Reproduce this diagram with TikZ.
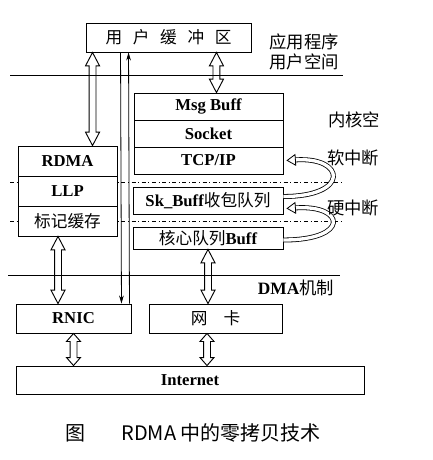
\documentclass[tikz,border=0pt]{standalone}
\usepackage{fontspec}
\setmainfont{Liberation Serif}
\newfontfamily\cjk{Noto Sans CJK SC}
\newcommand{\zhtext}[1]{{\cjk\mdseries #1}}
\usetikzlibrary{calc,arrows.meta}

\tikzset{
  box/.style={draw, fill=white, inner sep=0pt, line width=0.7pt,
    font=\fontsize{12.5}{14}\selectfont\bfseries},
  lbl/.style={inner sep=0.75pt, font=\fontsize{13}{15}\selectfont},
  fatarrow/.style={draw, line width=0.7pt, to path={
    let \p1=(\tikztostart), \p2=(\tikztotarget) in
    (\x1,\y1) -- (\x1+5.25pt,\y1+#1) -- (\x1+2.6pt,\y1+#1) -- (\x1+2.6pt,\y2-#1)
    -- (\x1+5.25pt,\y2-#1) -- (\x1,\y2) -- (\x1-5.25pt,\y2-#1) -- (\x1-2.6pt,\y2-#1)
    -- (\x1-2.6pt,\y1+#1) -- (\x1-5.25pt,\y1+#1) -- cycle}},
  fatarrow/.default=10pt,
  thinarr/.style={line width=0.6pt, -{Stealth[length=6pt,width=3.5pt]}},
  band/.style={double, double distance=2.5pt, line width=0.6pt,
    -{Triangle[open,length=7pt,width=9pt]}},
  layer/.style={line width=0.6pt}
}

\begin{document}
\begin{tikzpicture}[x=0.75pt,y=0.75pt,yscale=-1,xscale=1]
	\path (0,0) rectangle (432,460);
	
	%Straight Lines
	\draw [layer] (10,75) -- (343,75) ;
	\draw [layer, dash dot] (10,182) -- (343,182) ;
	\draw [layer, dash dot] (10,221) -- (343,221) ;
	\draw [layer] (8,275) -- (340,275) ;
	
	%Shape: Rectangle
	\node (ub) [box, minimum width=123.75pt, minimum height=21.75pt] at (168.5,37.5)
	  {\zhtext{用\hspace{8pt}户\hspace{8pt}缓\hspace{8pt}冲\hspace{8pt}区}};
	%Shape: Rectangle
	\node (msg) [box, minimum width=111.75pt, minimum height=20.25pt] at (208.5,106.5) {Msg Buff};
	\node (sock) [box, minimum width=111.75pt, minimum height=20.25pt] at (208.5,133.5) {Socket};
	\node (tcp) [box, minimum width=111.75pt, minimum height=20.25pt] at (208.5,160.5) {TCP/IP};
	\node (skb) [box, minimum width=112.5pt, minimum height=20.25pt] at (208,200.5) {Sk\_Buff\zhtext{收包队列}};
	\node (core) [box, minimum width=112.5pt, minimum height=16.5pt] at (208,238) {\zhtext{核心队列}Buff};
	%Shape: Rectangle
	\node (rdma) [box, minimum width=74.25pt, minimum height=22.5pt] at (67.5,161) {RDMA};
	\node (llp) [box, minimum width=74.25pt, minimum height=22.5pt] at (67.5,191) {LLP};
	\node (mark) [box, minimum width=74.25pt, minimum height=22.5pt] at (67.5,221) {\zhtext{标记缓存}};
	%Shape: Rectangle
	\node (rnic) [box, minimum width=86.25pt, minimum height=21.75pt] at (73.5,318.5) {RNIC};
	\node (nic) [box, minimum width=99.75pt, minimum height=21.75pt] at (215.5,318.5) {\zhtext{网\hspace{12pt}卡}};
	\node (inet) [box, minimum width=261pt, minimum height=21pt] at (190,380) {Internet};
	
	%Double Arrows
	\draw [fatarrow] ($(ub.south west)+(7,0)$) to (rdma.north) ;
	\draw [fatarrow] ($(ub.south east)+(-35,0)$) to (msg.north) ;
	\draw [fatarrow] ($(mark.south)+(-9.5,0)$) to (rnic.north) ;
	\draw [fatarrow] (core.south) to (nic.north) ;
	\draw [fatarrow=6pt] (rnic.south) to (inet.north) ;
	\draw [fatarrow=6pt] ($(nic.south)+(-8.5,0)$) to (inet.north) ;
	
	%Straight Lines
	\draw [thinarr] ($(ub.south west)+(35,0)$) -- ($(rnic.north east)+(-10,0)$) ;
	\draw [thinarr] ($(rnic.north east)+(-2,0)$) -- ($(ub.south west)+(43,0)$) ;
	
	%Curve Lines
	\draw [band] ($(skb.east)+(0,-4)$) .. controls +(67,0) and +(59,-4) .. ($(tcp.east)+(3,0)$) ;
	\draw [band] ($(core.east)+(0,2)$) .. controls +(67,0) and +(59,-4) .. ($(skb.east)+(3,8)$) ;
	
	% Text Node
	\node (app) [lbl, align=left] at (304,52) {\zhtext{应用程序}\\\zhtext{用户空间}};
	% Text Node
	\node (kern) [lbl] at (354,120) {\zhtext{内核空}};
	% Text Node
	\node (soft) [lbl] at (353,158) {\zhtext{软中断}};
	% Text Node
	\node (hard) [lbl] at (353,208) {\zhtext{硬中断}};
	% Text Node
	\node (dma) [lbl] at (296,288) {\bfseries DMA\zhtext{机制}};
	% Text Node
	\node (fig) [lbl, font=\fontsize{15}{17}\selectfont\cjk] at (75,433) {图};
	\node (cap) [lbl, font=\fontsize{15}{17}\selectfont\cjk] at (221,433) {RDMA 中的零拷贝技术};
	
\end{tikzpicture}
\end{document}
